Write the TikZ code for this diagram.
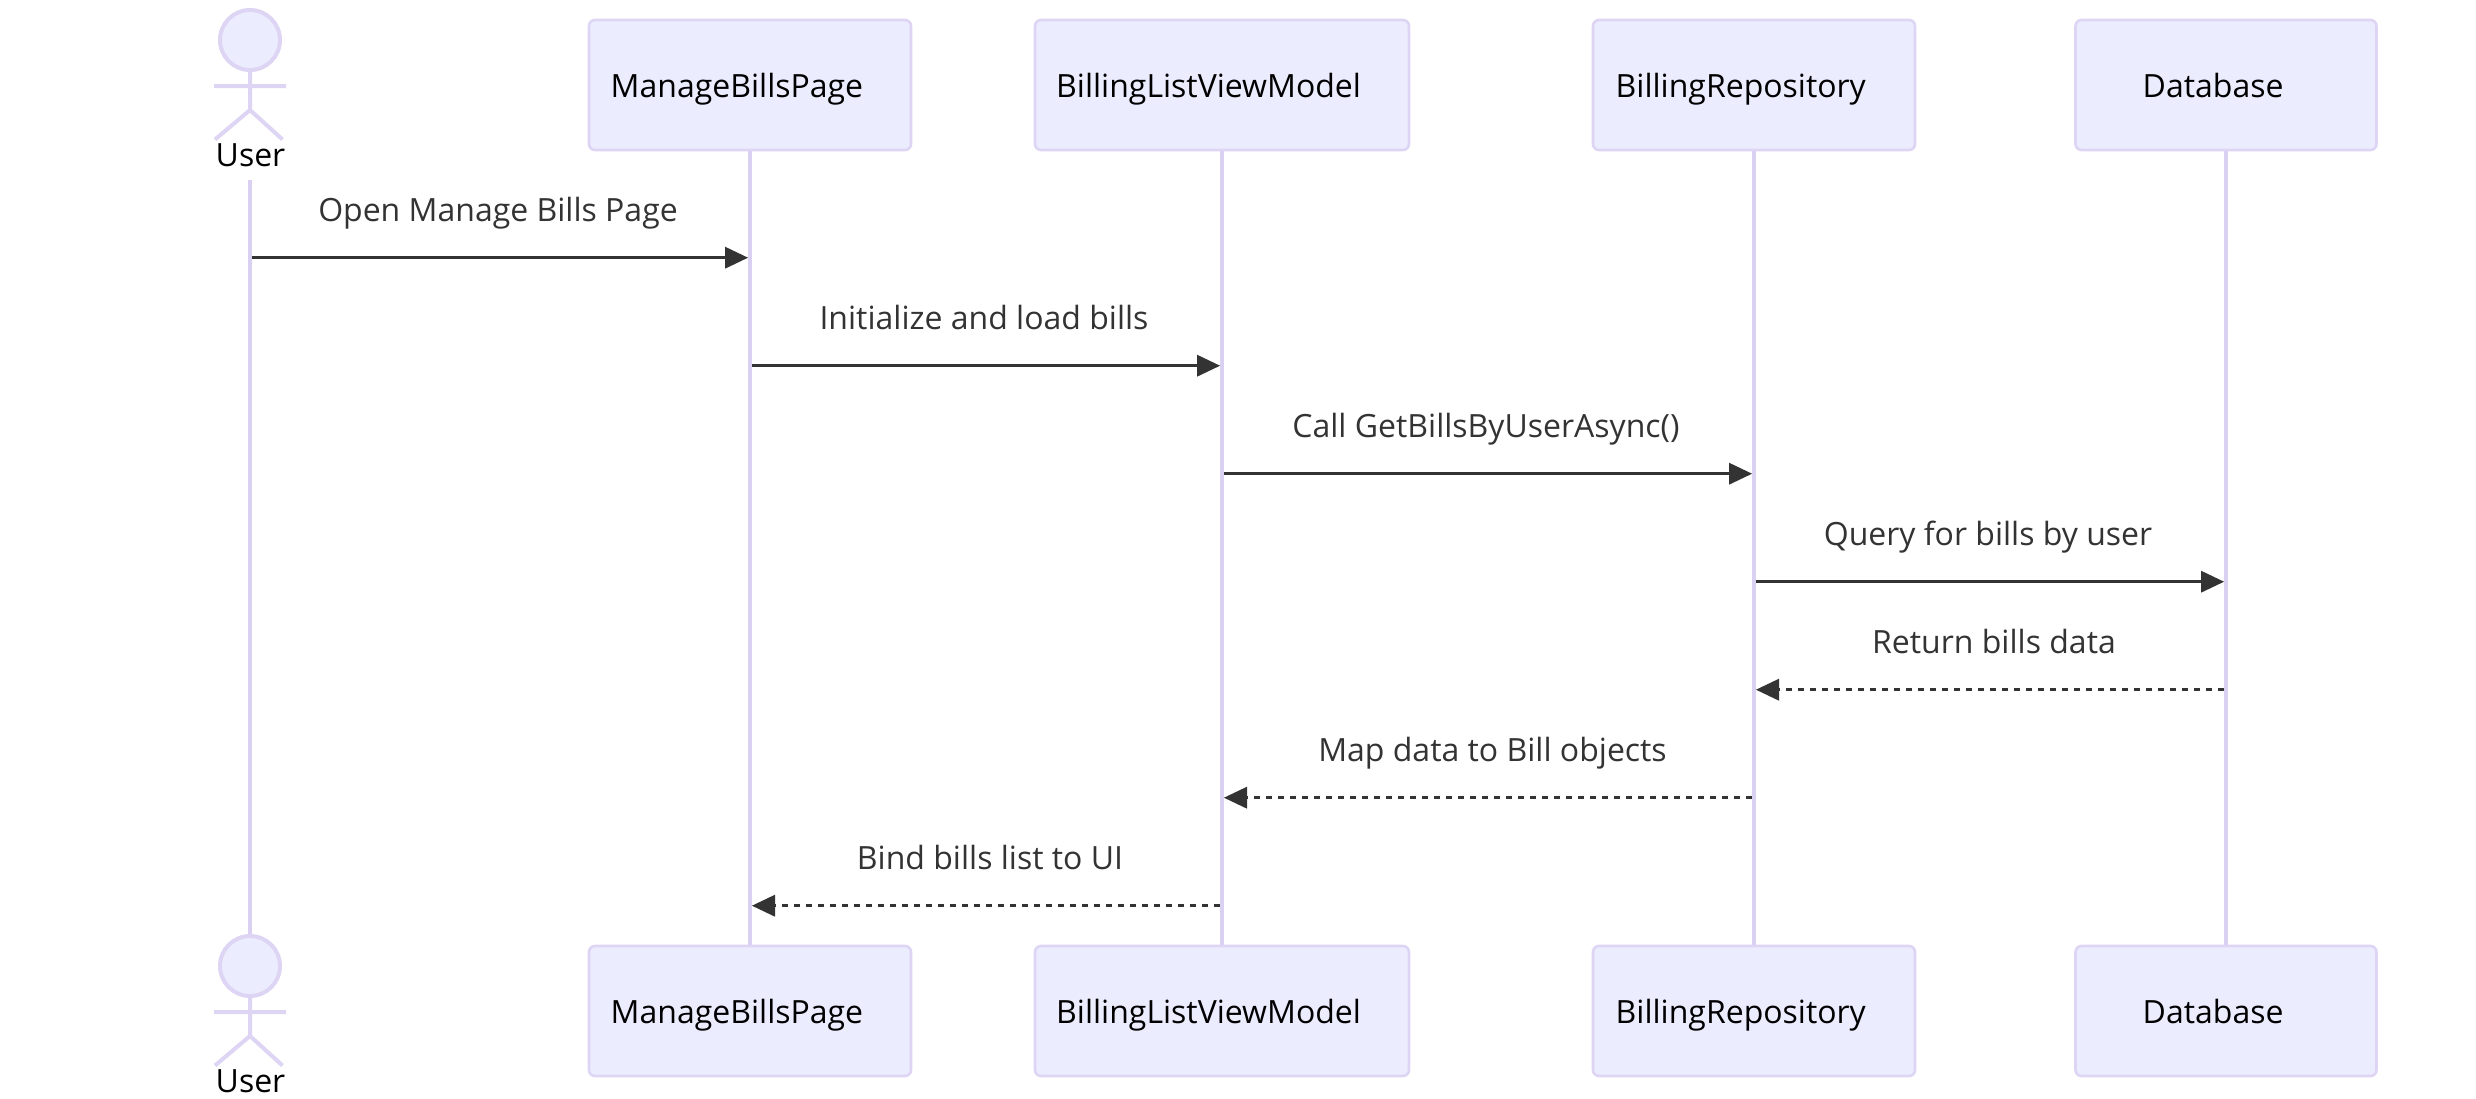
\documentclass[tikz,border=0pt]{standalone}
\usepackage{fontspec}
\setmainfont{Open Sans}
\usetikzlibrary{arrows.meta}
\definecolor{actorfill}{HTML}{ECECFF}
\definecolor{actorline}{HTML}{DED5F4}
\definecolor{lifecol}{HTML}{DAD1F2}
\definecolor{msgcol}{HTML}{333333}
\tikzset{
  x=1pt,y=-1pt,
  partbox/.style={draw=actorline,fill=actorfill,line width=2.6pt,rounded corners=6pt,minimum height=130pt,inner sep=0pt,anchor=center},
  parttext/.style={anchor=base west,inner sep=0pt,font=\fontsize{32}{38}\selectfont,text=black},
  usertext/.style={anchor=base,inner sep=0pt,font=\fontsize{32}{38}\selectfont,text=black},
  msgtext/.style={anchor=base,inner sep=0pt,font=\fontsize{32}{38}\selectfont,text=msgcol},
  lifeline/.style={draw=lifecol,line width=4.2pt},
  stick/.style={draw=actorline,line width=4pt},
  head/.style={circle,draw=actorline,fill=actorfill,line width=4pt,minimum size=60pt,inner sep=0pt},
  msg/.style={draw=msgcol,line width=3pt,-{Triangle[length=23pt,width=22pt,line width=0pt,color=msgcol]}},
  reply/.style={msg,dash pattern=on 6pt off 6pt},
}
\begin{document}
\begin{tikzpicture}
\path[fill=white,use as bounding box] (0,0) rectangle (2476,1098);

% participant boxes, top
\node[partbox,minimum width=322pt] (mt) at (750,85) {};
\node[partbox,minimum width=374pt] (bt) at (1222,85) {};
\node[partbox,minimum width=322pt] (rt) at (1754,85) {};
\node[partbox,minimum width=301pt] (dt) at (2226,85) {};
% participant boxes, bottom
\node[partbox,minimum width=322pt] (mb) at (750,1011) {};
\node[partbox,minimum width=374pt] (bb) at (1222,1011) {};
\node[partbox,minimum width=322pt] (rb) at (1754,1011) {};
\node[partbox,minimum width=301pt] (db) at (2226,1011) {};

% actors
\coordinate (ulabelbottom) at (250,180);
\node[head] (ht) at (250,40) {};
\node[head] (hb) at (250,966) {};

% lifelines
\draw[lifeline] (ulabelbottom) -- (hb.north);
\draw[lifeline] (mt.south) -- (mb.north);
\draw[lifeline] (bt.south) -- (bb.north);
\draw[lifeline] (rt.south) -- (rb.north);
\draw[lifeline] (dt.south) -- (db.north);

% stick figures
\draw[stick] (ht.south) -- (250,110) (214,86) -- (286,86) (215,139.5) -- (250,110) -- (282.5,139.5);
\draw[stick] (hb.south) -- (250,1036) (214,1012) -- (286,1012) (215,1065.5) -- (250,1036) -- (282.5,1065.5);
\node[usertext] (ut) at (250.5,166.5) {User};
\node[usertext] (ub) at (250.5,1092.5) {User};

% participant labels
\node[parttext] at (610.5,97) {ManageBillsPage};
\node[parttext] at (1056,97) {BillingListViewModel};
\node[parttext] at (1615.5,97) {BillingRepository};
\node[parttext] at (2142.5,97) {Database};
\node[parttext] at (610.5,1023) {ManageBillsPage};
\node[parttext] at (1056,1023) {BillingListViewModel};
\node[parttext] at (1615.5,1023) {BillingRepository};
\node[parttext] at (2142.5,1023) {Database};

% message rows
\coordinate (r1) at (0,257.7);
\coordinate (r2) at (0,365.7);
\coordinate (r3) at (0,473.7);
\coordinate (r4) at (0,581.7);
\coordinate (r5) at (0,689.7);
\coordinate (r6) at (0,797.7);
\coordinate (r7) at (0,905.7);

\draw[msg] ([xshift=2pt]ulabelbottom |- r1) -- ([xshift=-2pt]mt.south |- r1);
\draw[msg] ([xshift=2pt]mt.south |- r2) -- ([xshift=-2pt]bt.south |- r2);
\draw[msg] ([xshift=2pt]bt.south |- r3) -- ([xshift=-2pt]rt.south |- r3);
\draw[msg] ([xshift=2pt]rt.south |- r4) -- ([xshift=-2pt]dt.south |- r4);
\draw[reply] ([xshift=-2pt]dt.south |- r5) -- ([xshift=2pt]rt.south |- r5);
\draw[reply] ([xshift=-2pt]rt.south |- r6) -- ([xshift=2pt]bt.south |- r6);
\draw[reply] ([xshift=-2pt]bt.south |- r7) -- ([xshift=2pt]mt.south |- r7);

% message labels
\node[msgtext] at (498,221) {Open Manage Bills Page};
\node[msgtext] at (984,329) {Initialize and load bills};
\node[msgtext] at (1486,437) {Call GetBillsByUserAsync()};
\node[msgtext] at (1988,545) {Query for bills by user};
\node[msgtext] at (1994,653) {Return bills data};
\node[msgtext] at (1492.5,761) {Map data to Bill objects};
\node[msgtext] at (990,869) {Bind bills list to UI};
\end{tikzpicture}
\end{document}
